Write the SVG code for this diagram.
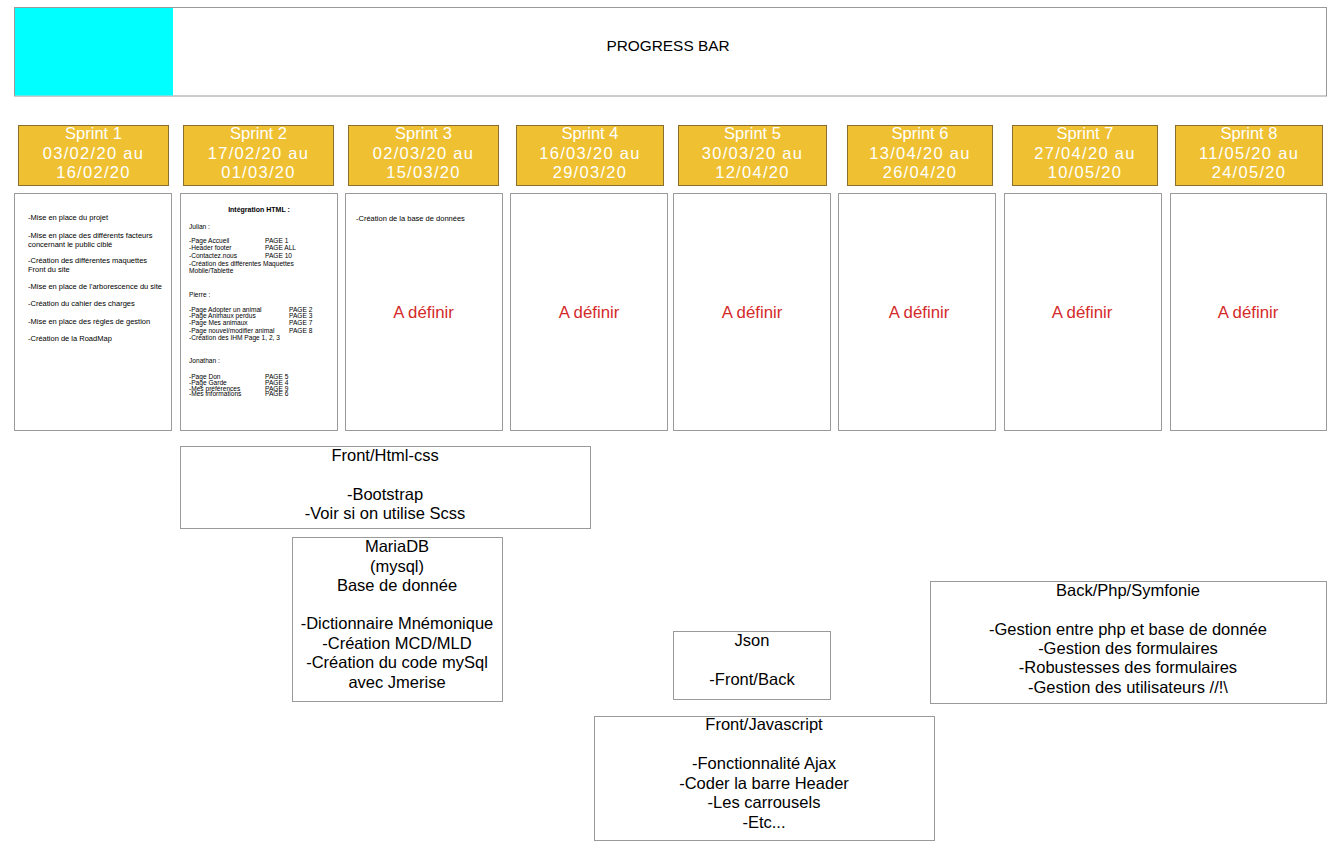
<svg xmlns="http://www.w3.org/2000/svg" width="1340" height="855" viewBox="0 0 1340 855">
<style>
.box{fill:#fff;stroke:#9a9a9a;stroke-width:1}
.hdr{fill:#EFC132;stroke:#8a7030;stroke-width:1}
.ht{font-family:"Liberation Sans",Arial,sans-serif;font-size:16.5px;fill:#fff;text-anchor:middle}
.ds{letter-spacing:1.3px}
.red{font-family:"Liberation Sans",Arial,sans-serif;font-size:16.8px;fill:#D42A2A;text-anchor:middle}
.bt{font-family:"Liberation Sans",Arial,sans-serif;font-size:16.5px;fill:#000;text-anchor:middle}
.s1{font-family:"Liberation Sans",Arial,sans-serif;font-size:7.5px;fill:#000}
.s2{font-family:"Liberation Sans",Arial,sans-serif;font-size:6.6px;fill:#000}
</style>
<rect width="1340" height="855" fill="#fff"/>
<g id="progress">
<rect class="box" x="14.5" y="7.5" width="1312" height="88.5"/>
<rect x="15" y="8" width="158" height="87.5" fill="#00FFFF"/>
<text x="668" y="51" font-family="Liberation Sans,Arial,sans-serif" font-size="15.4" text-anchor="middle">PROGRESS BAR</text>
</g>
<g id="sprint1">
<rect class="hdr" x="18.5" y="125.5" width="150" height="60"/>
<text class="ht"><tspan x="93.5" y="139">Sprint 1</tspan><tspan class="ds" x="93.5" y="159">03/02/20 au</tspan><tspan class="ds" x="93.5" y="178">16/02/20</tspan></text>
<rect class="box" x="14.5" y="193.5" width="157" height="237"/>
<text class="s1"><tspan x="28" y="220">-Mise en place du projet</tspan><tspan x="28" y="238">-Mise en place des différents facteurs</tspan><tspan x="28" y="247">concernant le public ciblé</tspan><tspan x="28" y="263">-Création des différentes maquettes</tspan><tspan x="28" y="272">Front du site</tspan><tspan x="28" y="289">-Mise en place de l'arborescence du site</tspan><tspan x="28" y="306">-Création du cahier des charges</tspan><tspan x="28" y="324">-Mise en place des règles de gestion</tspan><tspan x="28" y="341">-Création de la RoadMap</tspan></text>
</g>
<g id="sprint2">
<rect class="hdr" x="183.5" y="125.5" width="150" height="60"/>
<text class="ht"><tspan x="258.5" y="139">Sprint 2</tspan><tspan class="ds" x="258.5" y="159">17/02/20 au</tspan><tspan class="ds" x="258.5" y="178">01/03/20</tspan></text>
<rect class="box" x="180.5" y="193.5" width="157" height="237"/>
<text x="259" y="212" font-family="Liberation Sans,Arial,sans-serif" font-size="7" font-weight="bold" text-anchor="middle">Intégration HTML :</text>
<text class="s2"><tspan x="189" y="229">Julian :</tspan><tspan x="189" y="243">-Page Accueil</tspan><tspan x="189" y="249.5">-Header footer</tspan><tspan x="189" y="258">-Contactez.nous</tspan><tspan x="189" y="265.5">-Création des différentes Maquettes</tspan><tspan x="189" y="273">Mobile/Tablette</tspan></text>
<text class="s2"><tspan x="265" y="243">PAGE 1</tspan><tspan x="265" y="249.5">PAGE ALL</tspan><tspan x="265" y="258">PAGE 10</tspan></text>
<text class="s2"><tspan x="189" y="297">Pierre :</tspan><tspan x="189" y="312">-Page Adopter un animal</tspan><tspan x="189" y="317.5">-Page Animaux perdus</tspan><tspan x="189" y="325">-Page Mes animaux</tspan><tspan x="189" y="333">-Page nouvel/modifier animal</tspan><tspan x="189" y="339.5">-Création des IHM Page 1, 2, 3</tspan></text>
<text class="s2"><tspan x="289" y="312">PAGE 2</tspan><tspan x="289" y="317.5">PAGE 3</tspan><tspan x="289" y="325">PAGE 7</tspan><tspan x="289" y="333">PAGE 8</tspan></text>
<text class="s2"><tspan x="189" y="363">Jonathan :</tspan><tspan x="189" y="379">-Page Don</tspan><tspan x="189" y="384.5">-Page Garde</tspan><tspan x="189" y="390.5">-Mes préférences</tspan><tspan x="189" y="395.5">-Mes informations</tspan></text>
<text class="s2"><tspan x="265" y="379">PAGE 5</tspan><tspan x="265" y="384.5">PAGE 4</tspan><tspan x="265" y="390.5">PAGE 9</tspan><tspan x="265" y="395.5">PAGE 6</tspan></text>
</g>
<g id="sprint3">
<rect class="hdr" x="348.5" y="125.5" width="150" height="60"/>
<text class="ht"><tspan x="423.5" y="139">Sprint 3</tspan><tspan class="ds" x="423.5" y="159">02/03/20 au</tspan><tspan class="ds" x="423.5" y="178">15/03/20</tspan></text>
<rect class="box" x="345.5" y="193.5" width="157" height="237"/>
<text class="s1" x="356" y="221" font-size="7">-Création de la base de données</text>
<text class="red" x="423.5" y="318">A définir</text>
</g>
<g id="sprint4">
<rect class="hdr" x="516.5" y="125.5" width="147" height="60"/>
<text class="ht"><tspan x="590" y="139">Sprint 4</tspan><tspan class="ds" x="590" y="159">16/03/20 au</tspan><tspan class="ds" x="590" y="178">29/03/20</tspan></text>
<rect class="box" x="510.5" y="193.5" width="157" height="237"/>
<text class="red" x="589" y="318">A définir</text>
</g>
<g id="sprint5">
<rect class="hdr" x="678.5" y="125.5" width="148" height="60"/>
<text class="ht"><tspan x="752.5" y="139">Sprint 5</tspan><tspan class="ds" x="752.5" y="159">30/03/20 au</tspan><tspan class="ds" x="752.5" y="178">12/04/20</tspan></text>
<rect class="box" x="673.5" y="193.5" width="157" height="237"/>
<text class="red" x="752" y="318">A définir</text>
</g>
<g id="sprint6">
<rect class="hdr" x="847.5" y="125.5" width="145" height="60"/>
<text class="ht"><tspan x="920" y="139">Sprint 6</tspan><tspan class="ds" x="920" y="159">13/04/20 au</tspan><tspan class="ds" x="920" y="178">26/04/20</tspan></text>
<rect class="box" x="838.5" y="193.5" width="157" height="237"/>
<text class="red" x="919" y="318">A définir</text>
</g>
<g id="sprint7">
<rect class="hdr" x="1012.5" y="125.5" width="145" height="60"/>
<text class="ht"><tspan x="1085" y="139">Sprint 7</tspan><tspan class="ds" x="1085" y="159">27/04/20 au</tspan><tspan class="ds" x="1085" y="178">10/05/20</tspan></text>
<rect class="box" x="1004.5" y="193.5" width="157" height="237"/>
<text class="red" x="1082" y="318">A définir</text>
</g>
<g id="sprint8">
<rect class="hdr" x="1175.5" y="125.5" width="147" height="60"/>
<text class="ht"><tspan x="1249" y="139">Sprint 8</tspan><tspan class="ds" x="1249" y="159">11/05/20 au</tspan><tspan class="ds" x="1249" y="178">24/05/20</tspan></text>
<rect class="box" x="1170.5" y="193.5" width="156" height="237"/>
<text class="red" x="1248" y="318">A définir</text>
</g>
<g id="front-html">
<rect class="box" x="180.5" y="446.5" width="410" height="82"/>
<text class="bt"><tspan x="385" y="461">Front/Html-css</tspan><tspan x="385" y="500">-Bootstrap</tspan><tspan x="385" y="519">-Voir si on utilise Scss</tspan></text>
</g>
<g id="mariadb">
<rect class="box" x="292.5" y="537.5" width="210" height="164"/>
<text class="bt"><tspan x="397" y="552">MariaDB</tspan><tspan x="397" y="572">(mysql)</tspan><tspan x="397" y="591">Base de donnée</tspan><tspan x="397" y="629">-Dictionnaire Mnémonique</tspan><tspan x="397" y="649">-Création MCD/MLD</tspan><tspan x="397" y="668">-Création du code mySql</tspan><tspan x="397" y="688">avec Jmerise</tspan></text>
</g>
<g id="json">
<rect class="box" x="673.5" y="631.5" width="157" height="68"/>
<text class="bt"><tspan x="752" y="646">Json</tspan><tspan x="752" y="685">-Front/Back</tspan></text>
</g>
<g id="back">
<rect class="box" x="930.5" y="581.5" width="396" height="122"/>
<text class="bt"><tspan x="1128" y="596">Back/Php/Symfonie</tspan><tspan x="1128" y="635">-Gestion entre php et base de donnée</tspan><tspan x="1128" y="654">-Gestion des formulaires</tspan><tspan x="1128" y="673">-Robustesses des formulaires</tspan><tspan x="1128" y="693">-Gestion des utilisateurs //!\</tspan></text>
</g>
<g id="front-js">
<rect class="box" x="594.5" y="716.5" width="340" height="124"/>
<text class="bt"><tspan x="764" y="730">Front/Javascript</tspan><tspan x="764" y="769">-Fonctionnalité Ajax</tspan><tspan x="764" y="789">-Coder la barre Header</tspan><tspan x="764" y="808">-Les carrousels</tspan><tspan x="764" y="828">-Etc...</tspan></text>
</g>
<g id="connectors"/>
</svg>
